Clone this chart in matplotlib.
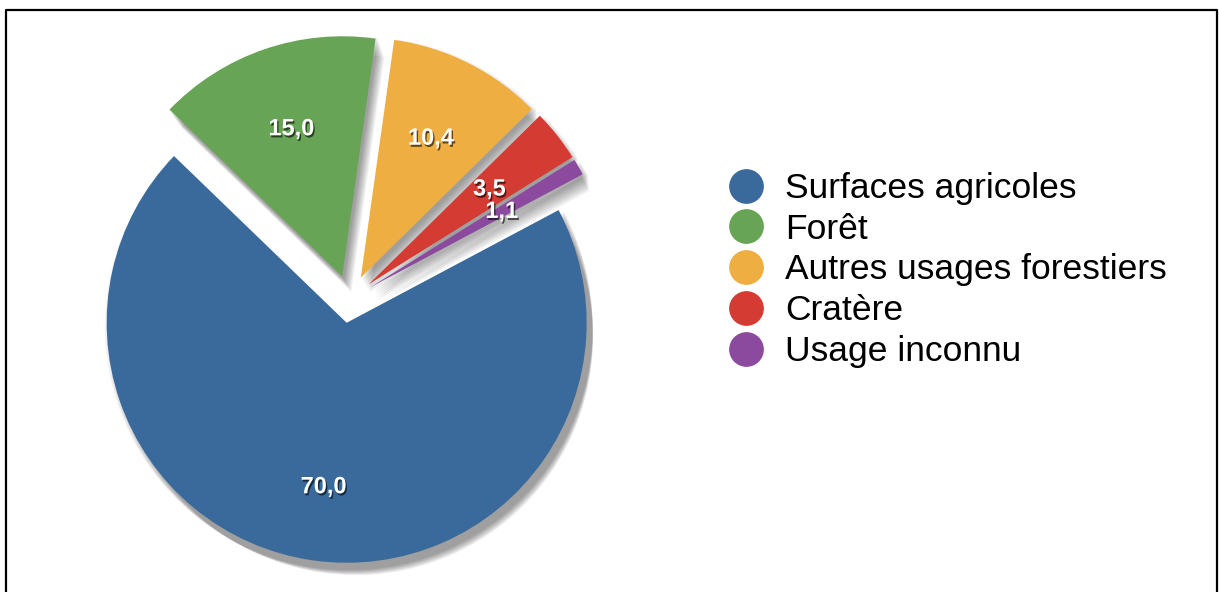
import matplotlib.pyplot as plt
import matplotlib.patheffects as pe
from matplotlib.lines import Line2D
import numpy as np

plt.rcParams['font.family'] = ['Liberation Sans', 'DejaVu Sans']

categories = ['Surfaces agricoles', 'Forêt', 'Autres usages forestiers', 'Cratère', 'Usage inconnu']
values = [70.0, 15.0, 10.4, 3.5, 1.1]
value_labels = ['70,0', '15,0', '10,4', '3,5', '1,1']
colors = ['#3A6A9C', '#68A455', '#EFAE42', '#D43B33', '#8B4A9E']

W, H = 1219, 592
fig = plt.figure(figsize=(W / 100, H / 100), dpi=100)

# pie axes: 1 data unit = 240 px, pie centre at (350, 299) px from top-left
R = 240
cx, cy = 350, H - 299
half = 1.4
ax = fig.add_axes([(cx - half * R) / W, (cy - half * R) / H, 2 * half * R / W, 2 * half * R / H])

explode = [0.1] * len(values)
start = 28

# soft drop shadow: several faint offset copies
for k in range(8):
    off = 0.015 + 0.007 * k
    ax.pie(values, explode=explode, startangle=start, counterclock=False,
           colors=['black'] * len(values), radius=1.0 + 0.004 * (4 - k),
           center=(off * 0.6, -off), wedgeprops=dict(alpha=0.055, linewidth=0))

wedges, _ = ax.pie(values, explode=explode, startangle=start, counterclock=False,
                   colors=colors, wedgeprops=dict(linewidth=0))

# pie() resets the limits, so fix them afterwards
ax.set_xlim(-half, half)
ax.set_ylim(-half, half)
ax.set_aspect('equal')
ax.axis('off')

label_dist = [0.69, 0.65, 0.65, 0.64, 0.63]
for w, lab, d in zip(wedges, value_labels, label_dist):
    ang = np.deg2rad((w.theta1 + w.theta2) / 2)
    x0, y0 = w.center
    ax.text(x0 + d * np.cos(ang), y0 + d * np.sin(ang), lab, color='white',
            fontsize=17, fontweight='bold', ha='center', va='center',
            path_effects=[pe.withSimplePatchShadow(offset=(1, -1.5), shadow_rgbFace='black', alpha=0.6)])

handles = [Line2D([], [], marker='o', linestyle='none', markersize=24,
                  markerfacecolor=c, markeredgecolor=c) for c in colors]
fig.legend(handles, categories, loc='center left', bbox_to_anchor=(728 / W, (H - 270) / H),
           frameon=False, fontsize=25.5, handlelength=1.0, handletextpad=0.62,
           labelspacing=0.22, borderpad=0, borderaxespad=0)

# border around the picture (open at the bottom)
fx = lambda px: px / W
fy = lambda py: (H - py) / H
fig.add_artist(Line2D([fx(6), fx(6), fx(1217), fx(1217)], [fy(H + 5), fy(10), fy(10), fy(H + 5)],
                      color='black', linewidth=1.6))

fig.savefig('out.png', dpi=100)
